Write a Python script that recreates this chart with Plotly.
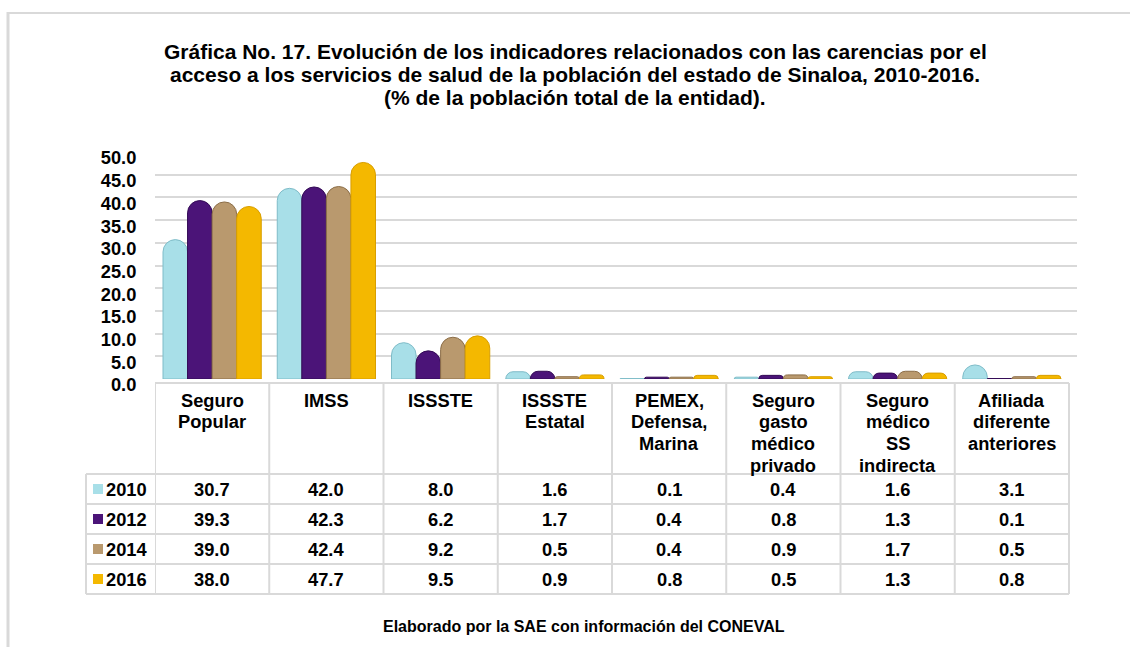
import plotly.graph_objects as go

# ---------------- data ----------------
categories = ["Seguro Popular", "IMSS", "ISSSTE", "ISSSTE Estatal",
              "PEMEX, Defensa, Marina", "Seguro gasto médico privado",
              "Seguro médico SS indirecta", "Afiliada diferente anteriores"]
category_labels = [["Seguro", "Popular"], ["IMSS"], ["ISSSTE"], ["ISSSTE", "Estatal"],
                   ["PEMEX,", "Defensa,", "Marina"], ["Seguro", "gasto", "médico", "privado"],
                   ["Seguro", "médico", "SS", "indirecta"], ["Afiliada", "diferente", "anteriores"]]
years = ["2010", "2012", "2014", "2016"]
v2010 = [30.7, 42.0, 8.0, 1.6, 0.1, 0.4, 1.6, 3.1]
v2012 = [39.3, 42.3, 6.2, 1.7, 0.4, 0.8, 1.3, 0.1]
v2014 = [39.0, 42.4, 9.2, 0.5, 0.4, 0.9, 1.7, 0.5]
v2016 = [38.0, 47.7, 9.5, 0.9, 0.8, 0.5, 1.3, 0.8]
y_ticks = [0, 5, 10, 15, 20, 25, 30, 35, 40, 45, 50]

title_lines = ["Gráfica No. 17. Evolución de los indicadores relacionados con las carencias por el",
               "acceso a los servicios de salud de la población del estado de Sinaloa, 2010-2016.",
               "(% de la población total de la entidad)."]
footer_text = "Elaborado por la SAE con información del CONEVAL"

series = [v2010, v2012, v2014, v2016]
colors = ["#a8dfe8", "#4b1478", "#b9996e", "#f4b800"]
edge_colors = ["#7fbcc8", "#330a55", "#8c6e48", "#d89e00"]

# ---------------- layout geometry (pixels) ----------------
W, H = 1130, 647
PL, PR, PT, PB = 155, 1077, 152, 379
COLW = 114.25  # pixel width of one category column
TABLE_R = PL + COLW * len(categories)
FONT = "Liberation Sans, Arial, sans-serif"
GRID = "#d9d9d9"


def py(p):
    return (PB - p) / (PB - PT)


def px(p):
    return (p - PL) / (PR - PL)


fig = go.Figure()
for yr, vals, c, ec in zip(years, series, colors, edge_colors):
    fig.add_trace(go.Bar(
        x=categories, y=vals, name=yr,
        marker=dict(color=c, line=dict(color=ec, width=1), cornerradius="50%"),
        showlegend=False,
    ))

shapes = []
annotations = []

# outer frame
shapes.append(dict(type="line", xref="paper", yref="paper", x0=px(7), x1=px(1130), y0=py(13), y1=py(13),
                   line=dict(color=GRID, width=2)))
shapes.append(dict(type="line", xref="paper", yref="paper", x0=px(8), x1=px(8), y0=py(12), y1=py(647),
                   line=dict(color=GRID, width=3)))

# table geometry
t_top, h_bot = 383, 474
row_h = 30
rows_y = [h_bot + i * row_h for i in range(len(years) + 1)]
t_bot = rows_y[-1]
n = len(categories)
left_col = 86
line_style = dict(color=GRID, width=2)

shapes.append(dict(type="line", xref="x", yref="paper", x0=-0.5, x1=n - 0.5, y0=py(t_top), y1=py(t_top),
                   line=line_style))
for ry in rows_y:
    shapes.append(dict(type="line", xref="paper", yref="paper", x0=px(left_col), x1=px(TABLE_R),
                       y0=py(ry), y1=py(ry), line=line_style))
for i in range(n + 1):
    shapes.append(dict(type="line", xref="x", yref="paper", x0=i - 0.5, x1=i - 0.5, y0=py(t_top), y1=py(t_bot),
                       line=line_style))
shapes.append(dict(type="line", xref="paper", yref="paper", x0=px(left_col), x1=px(left_col), y0=py(h_bot),
                   y1=py(t_bot), line=line_style))

FS = 18.3
LINE_H = 21.7
# header labels (one annotation per line for tight spacing)
for cat, lab in zip(categories, category_labels):
    for k, part in enumerate(lab):
        annotations.append(dict(xref="x", yref="paper", x=cat, y=py(400 + LINE_H * k), yanchor="middle",
                                xanchor="center", text="<b>" + part + "</b>", showarrow=False,
                                font=dict(family=FONT, size=FS, color="#000000")))

# rows
for r, (yr, vals, c) in enumerate(zip(years, series, colors)):
    cy = rows_y[r] + row_h / 2
    shapes.append(dict(type="rect", xref="paper", yref="paper", x0=px(93), x1=px(103),
                       y0=py(cy + 5), y1=py(cy - 5), fillcolor=c, line=dict(width=0)))
    annotations.append(dict(xref="paper", yref="paper", x=px(104), y=py(cy), xanchor="left", yanchor="middle",
                            text="<b>" + yr + "</b>", showarrow=False,
                            font=dict(family=FONT, size=FS, color="#000000")))
    for cat, v in zip(categories, vals):
        annotations.append(dict(xref="x", yref="paper", x=cat, y=py(cy), xanchor="center", yanchor="middle",
                                text="<b>%.1f</b>" % v, showarrow=False,
                                font=dict(family=FONT, size=FS, color="#000000")))

# title (one annotation per line for tight line spacing)
for i, line in enumerate(title_lines):
    annotations.append(dict(xref="paper", yref="paper", x=px(575), y=py(51 + 23.5 * i), xanchor="center",
                            yanchor="middle", text="<b>" + line + "</b>", showarrow=False,
                            font=dict(family=FONT, size=21, color="#000000")))
# footer
annotations.append(dict(xref="paper", yref="paper", x=px(584), y=py(626), xanchor="center", yanchor="middle",
                        text="<b>" + footer_text + "</b>", showarrow=False,
                        font=dict(family=FONT, size=16, color="#000000")))

fig.update_layout(
    width=W, height=H,
    margin=dict(l=PL, r=W - PR, t=PT, b=H - PB, pad=0),
    paper_bgcolor="white", plot_bgcolor="white",
    barmode="group", bargap=0.14, bargroupgap=0.0,
    shapes=shapes, annotations=annotations,
    font=dict(family=FONT, color="#000000"),
)
fig.update_xaxes(range=[-0.5, -0.5 + (PR - PL) / COLW], showticklabels=False, showgrid=False, zeroline=False,
                 showline=False, ticks="")
fig.update_yaxes(range=[0, 50], tickvals=y_ticks, tickformat=".1f", showgrid=True, gridcolor=GRID,
                 gridwidth=2, zeroline=False, showline=False, ticks="outside", ticklen=14,
                 ticklabelshift=6,
                 tickcolor="rgba(0,0,0,0)", tickfont=dict(family=FONT, size=FS, color="#000000", weight="bold"))

fig.write_html("out.html", post_script="document.body.style.margin='0';",
               config={"displayModeBar": False})
